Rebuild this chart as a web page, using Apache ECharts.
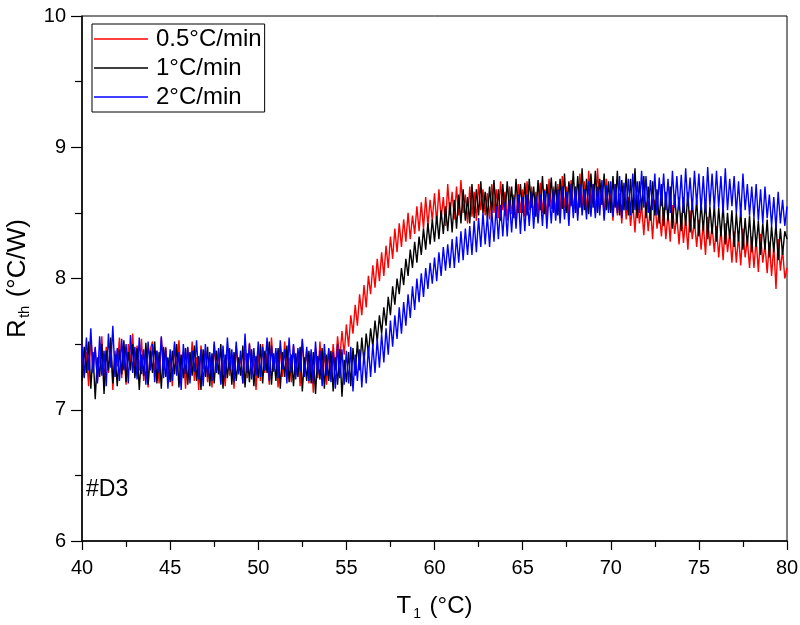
<!DOCTYPE html>
<html><head><meta charset="utf-8">
<script src="https://cdn.jsdelivr.net/npm/echarts@6/dist/echarts.min.js"></script>
<style>html,body{margin:0;padding:0;background:#fff}#c{width:800px;height:625px}</style>
</head><body><div id="c"></div>
<script>
const xStart = 40, xStep = 0.125;
const seriesNames = ['0.5°C/min', '1°C/min', '2°C/min'];
const seriesColors = ['#ff0000', '#000000', '#0000ff'];
const xTicks = [40, 45, 50, 55, 60, 65, 70, 75, 80];
const yTicks = [6, 7, 8, 9, 10];

const red = [
 7.50,7.25,7.44,7.18,7.55,7.30,7.47,7.22,
 7.40,7.56,7.20,7.48,7.28,7.52,7.15,7.45,
 7.33,7.55,7.24,7.47,7.19,7.50,7.36,7.58,
 7.26,7.49,7.30,7.54,7.22,7.43,7.17,7.46,
 7.52,7.28,7.45,7.20,7.55,7.33,7.48,7.24,
 7.42,7.18,7.50,7.29,7.53,7.25,7.44,7.16,
 7.47,7.27,7.52,7.22,7.40,7.15,7.49,7.31,
 7.45,7.21,7.40,7.17,7.50,7.28,7.44,7.20,
 7.38,7.18,7.47,7.26,7.42,7.16,7.49,7.29,
 7.41,7.20,7.46,7.24,7.51,7.27,7.39,7.15,
 7.46,7.22,7.50,7.28,7.43,7.19,7.55,7.30,
 7.42,7.17,7.48,7.25,7.52,7.29,7.40,7.21,
 7.49,7.26,7.44,7.18,7.53,7.31,7.45,7.20,
 7.40,7.13,7.47,7.24,7.52,7.27,7.43,7.19,
 7.46,7.25,7.50,7.30,7.56,7.38,7.60,7.42,
 7.65,7.48,7.72,7.58,7.80,7.64,7.88,7.72,
 7.95,7.78,8.02,7.88,8.10,7.93,8.15,7.98,
 8.20,8.02,8.25,8.08,8.32,8.15,8.38,8.20,
 8.42,8.24,8.45,8.28,8.50,8.30,8.48,8.34,
 8.55,8.36,8.58,8.38,8.62,8.40,8.60,8.44,
 8.65,8.42,8.68,8.46,8.62,8.40,8.72,8.48,
 8.66,8.45,8.70,8.48,8.75,8.50,8.64,8.42,
 8.70,8.47,8.66,8.44,8.72,8.52,8.68,8.48,
 8.65,8.45,8.72,8.50,8.68,8.46,8.74,8.52,
 8.66,8.44,8.70,8.49,8.64,8.42,8.72,8.50,
 8.68,8.47,8.74,8.52,8.70,8.48,8.66,8.50,
 8.73,8.50,8.68,8.46,8.76,8.53,8.70,8.49,
 8.72,8.50,8.78,8.54,8.70,8.48,8.75,8.52,
 8.70,8.48,8.80,8.55,8.74,8.50,8.82,8.56,
 8.72,8.50,8.84,8.54,8.70,8.46,8.76,8.52,
 8.66,8.44,8.72,8.48,8.65,8.42,8.70,8.45,
 8.62,8.40,8.58,8.35,8.64,8.42,8.56,8.33,
 8.58,8.36,8.55,8.30,8.60,8.38,8.52,8.32,
 8.54,8.30,8.50,8.28,8.56,8.34,8.48,8.26,
 8.50,8.27,8.46,8.22,8.52,8.30,8.44,8.24,
 8.45,8.22,8.42,8.18,8.47,8.25,8.40,8.20,
 8.40,8.16,8.38,8.14,8.42,8.20,8.35,8.12,
 8.36,8.12,8.33,8.10,8.38,8.16,8.30,8.08,
 8.32,8.08,8.30,8.05,8.34,8.12,8.26,8.04,
 8.28,8.02,8.25,7.92,8.30,8.06,8.22,8.00,
 8.08
];
const black = [
 7.22,7.48,7.28,7.52,7.16,7.44,7.08,7.40,
 7.25,7.50,7.12,7.45,7.30,7.55,7.20,7.42,
 7.18,7.46,7.27,7.53,7.21,7.44,7.30,7.50,
 7.24,7.47,7.15,7.42,7.26,7.51,7.19,7.45,
 7.28,7.52,7.20,7.44,7.16,7.48,7.25,7.40,
 7.21,7.45,7.27,7.50,7.17,7.42,7.24,7.47,
 7.19,7.44,7.26,7.49,7.22,7.41,7.15,7.46,
 7.25,7.48,7.18,7.43,7.20,7.45,7.27,7.50,
 7.16,7.42,7.24,7.47,7.19,7.44,7.22,7.40,
 7.26,7.49,7.17,7.43,7.21,7.46,7.18,7.41,
 7.24,7.50,7.20,7.45,7.28,7.52,7.19,7.43,
 7.22,7.47,7.16,7.44,7.25,7.49,7.21,7.42,
 7.18,7.43,7.25,7.48,7.14,7.40,7.22,7.45,
 7.20,7.44,7.12,7.41,7.23,7.47,7.16,7.42,
 7.22,7.45,7.14,7.40,7.19,7.46,7.10,7.38,
 7.21,7.44,7.18,7.47,7.26,7.52,7.30,7.55,
 7.36,7.58,7.42,7.62,7.48,7.68,7.52,7.72,
 7.58,7.78,7.64,7.86,7.72,7.94,7.80,8.00,
 7.88,8.08,7.95,8.15,8.02,8.22,8.08,8.28,
 8.12,8.32,8.18,8.38,8.22,8.42,8.26,8.45,
 8.28,8.48,8.30,8.52,8.34,8.55,8.36,8.58,
 8.35,8.60,8.38,8.64,8.42,8.68,8.44,8.62,
 8.42,8.72,8.46,8.68,8.48,8.74,8.50,8.66,
 8.46,8.70,8.50,8.75,8.48,8.68,8.44,8.72,
 8.48,8.74,8.52,8.70,8.46,8.76,8.50,8.72,
 8.50,8.73,8.48,8.76,8.54,8.70,8.47,8.75,
 8.52,8.78,8.49,8.72,8.55,8.77,8.50,8.74,
 8.48,8.76,8.53,8.80,8.50,8.74,8.55,8.82,
 8.50,8.78,8.54,8.84,8.52,8.76,8.49,8.80,
 8.54,8.82,8.50,8.76,8.56,8.80,8.52,8.74,
 8.50,8.78,8.54,8.82,8.48,8.75,8.52,8.80,
 8.48,8.76,8.50,8.84,8.46,8.74,8.52,8.78,
 8.46,8.70,8.44,8.74,8.48,8.68,8.42,8.72,
 8.40,8.66,8.44,8.70,8.38,8.64,8.42,8.62,
 8.36,8.62,8.40,8.66,8.35,8.58,8.38,8.60,
 8.32,8.58,8.36,8.60,8.30,8.55,8.34,8.56,
 8.28,8.54,8.32,8.56,8.26,8.50,8.30,8.52,
 8.24,8.50,8.28,8.52,8.22,8.46,8.25,8.48,
 8.20,8.46,8.24,8.44,8.18,8.42,8.22,8.45,
 8.16,8.40,8.20,8.42,8.14,8.38,8.18,8.36,
 8.30
];
const blue = [
 7.50,7.24,7.55,7.30,7.62,7.28,7.48,7.20,
 7.56,7.26,7.45,7.18,7.58,7.32,7.64,7.25,
 7.47,7.22,7.54,7.30,7.50,7.20,7.57,7.28,
 7.48,7.23,7.55,7.27,7.46,7.19,7.52,7.30,
 7.50,7.21,7.45,7.28,7.56,7.24,7.47,7.16,
 7.46,7.22,7.52,7.26,7.44,7.15,7.50,7.27,
 7.48,7.20,7.45,7.29,7.53,7.23,7.46,7.18,
 7.50,7.25,7.44,7.22,7.52,7.28,7.47,7.19,
 7.49,7.24,7.55,7.30,7.46,7.21,7.52,7.27,
 7.45,7.20,7.58,7.28,7.50,7.23,7.47,7.26,
 7.52,7.25,7.48,7.30,7.55,7.22,7.49,7.29,
 7.47,7.24,7.53,7.31,7.46,7.20,7.55,7.28,
 7.50,7.23,7.47,7.29,7.54,7.25,7.48,7.22,
 7.46,7.20,7.52,7.27,7.45,7.18,7.50,7.26,
 7.47,7.21,7.44,7.16,7.50,7.24,7.46,7.19,
 7.45,7.20,7.48,7.14,7.42,7.22,7.46,7.17,
 7.44,7.20,7.48,7.25,7.50,7.28,7.54,7.32,
 7.58,7.36,7.62,7.42,7.68,7.48,7.72,7.54,
 7.78,7.58,7.82,7.64,7.88,7.70,7.94,7.76,
 8.00,7.82,8.04,7.86,8.08,7.92,8.12,7.96,
 8.16,7.98,8.20,8.02,8.24,8.06,8.26,8.08,
 8.30,8.08,8.32,8.12,8.36,8.14,8.38,8.18,
 8.40,8.18,8.44,8.20,8.46,8.24,8.50,8.26,
 8.48,8.24,8.52,8.28,8.55,8.30,8.56,8.32,
 8.58,8.32,8.60,8.35,8.62,8.38,8.64,8.34,
 8.62,8.36,8.64,8.40,8.66,8.38,8.63,8.42,
 8.64,8.40,8.67,8.38,8.65,8.42,8.68,8.44,
 8.68,8.42,8.70,8.45,8.66,8.40,8.72,8.46,
 8.70,8.44,8.72,8.48,8.68,8.45,8.74,8.47,
 8.72,8.46,8.70,8.48,8.75,8.44,8.71,8.50,
 8.74,8.47,8.72,8.50,8.78,8.46,8.73,8.52,
 8.76,8.48,8.80,8.52,8.74,8.50,8.82,8.54,
 8.78,8.50,8.75,8.52,8.80,8.48,8.77,8.55,
 8.80,8.52,8.76,8.50,8.82,8.54,8.78,8.52,
 8.79,8.50,8.84,8.55,8.77,8.52,8.82,8.56,
 8.80,8.52,8.78,8.50,8.85,8.55,8.80,8.53,
 8.82,8.54,8.78,8.50,8.84,8.52,8.76,8.55,
 8.78,8.50,8.74,8.47,8.80,8.52,8.72,8.48,
 8.70,8.46,8.72,8.44,8.68,8.42,8.70,8.46,
 8.64,8.40,8.62,8.38,8.66,8.42,8.60,8.40,
 8.55
];

const values = [red, black, blue];
const pairs = v => v.map((y, i) => [xStart + i * xStep, y]);

const font = '"Liberation Sans", Arial, sans-serif';
const chart = echarts.init(document.getElementById('c'), null, {renderer: 'canvas'});
chart.setOption({
  animation: false,
  backgroundColor: '#fff',
  grid: {left: 82, right: 13, top: 16, bottom: 84, outerBoundsMode: 'none', containLabel: false,
         show: true, borderColor: '#000', borderWidth: 1, backgroundColor: 'transparent'},
  xAxis: {
    type: 'value', min: xTicks[0], max: xTicks[xTicks.length - 1], interval: 5,
    axisLine: {show: true, lineStyle: {color: '#000', width: 1.5}},
    axisTick: {show: true, inside: false, length: 9, lineStyle: {color: '#000', width: 1.2}},
    minorTick: {show: true, splitNumber: 2, length: 6, lineStyle: {color: '#000', width: 1.2}},
    splitLine: {show: false},
    axisLabel: {color: '#000', fontSize: 20, fontFamily: font, margin: 17},
    name: '{a|T}{s|1}{a| (°C)}', nameLocation: 'middle', nameGap: 50,
    nameTextStyle: {rich: {a: {fontSize: 24, fontFamily: font, color: '#000'}, s: {fontSize: 14, fontFamily: font, color: '#000', verticalAlign: 'bottom', padding: [16, 2, 0, 2]}}}
  },
  yAxis: {
    type: 'value', min: yTicks[0], max: yTicks[yTicks.length - 1], interval: 1,
    axisLine: {show: true, lineStyle: {color: '#000', width: 1.5}},
    axisTick: {show: true, inside: false, length: 11, lineStyle: {color: '#000', width: 1.2}},
    minorTick: {show: true, splitNumber: 2, length: 7, lineStyle: {color: '#000', width: 1.2}},
    splitLine: {show: false},
    axisLabel: {color: '#000', fontSize: 20, fontFamily: font, margin: 16},
    name: '{a|R}{s|th}{a| (°C/W)}', nameLocation: 'middle', nameGap: 47, nameRotate: 90,
    nameTextStyle: {rich: {a: {fontSize: 26, fontFamily: font, color: '#000'}, s: {fontSize: 15, fontFamily: font, color: '#000', verticalAlign: 'bottom', padding: [16, 1, 0, 1]}}}
  },
  legend: {
    orient: 'vertical', left: 92, top: 24,
    borderColor: '#000', borderWidth: 1, padding: [3, 3, 3, 2],
    itemWidth: 54, itemHeight: 1.5, itemGap: 5, icon: 'rect',
    textStyle: {fontSize: 24, fontFamily: font, color: '#000', padding: [0, 0, 0, 3]},
    data: seriesNames
  },
  graphic: [{type: 'text', left: 86, top: 478, style: {text: '#D3', fontSize: 23, fontFamily: font, fill: '#000'}}],
  series: values.map((v, k) => ({
    name: seriesNames[k], type: 'line', data: pairs(v), showSymbol: false, symbol: 'none',
    lineStyle: {color: seriesColors[k], width: 1.4}, itemStyle: {color: seriesColors[k]}
  }))
});
</script></body></html>
